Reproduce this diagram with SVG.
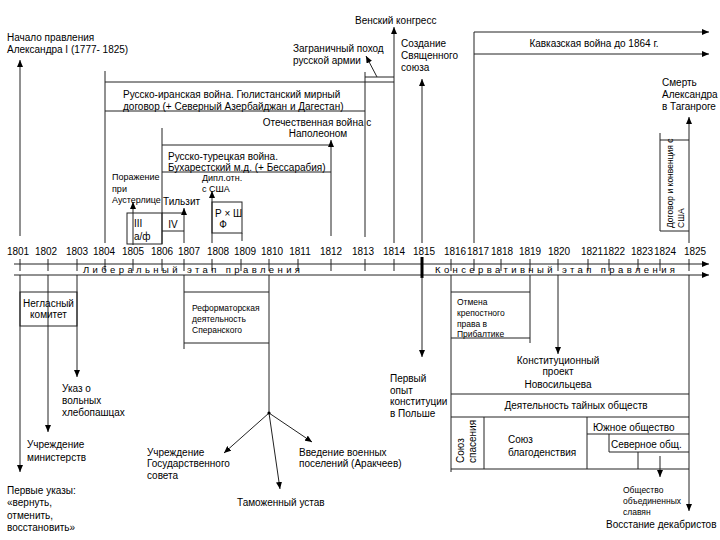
<svg xmlns="http://www.w3.org/2000/svg" width="720" height="540" viewBox="0 0 720 540">
<style>
text{font-family:"Liberation Sans",Arial,sans-serif;font-size:10px;fill:#000}
.s{font-size:8.5px}
.m{font-size:9px}
.c{text-anchor:middle}
.l{stroke:#222;stroke-width:1;fill:none}
.a{marker-end:url(#ah)}
.yr{text-anchor:middle;font-size:10px}
</style>
<defs>
<marker id="ah" viewBox="0 0 7 6" refX="7" refY="3" markerWidth="7" markerHeight="6" markerUnits="userSpaceOnUse" orient="auto">
<path d="M0,0 L7,3 L0,6 z" fill="#000"/>
</marker>
</defs>
<rect width="720" height="540" fill="#fff"/>
<g id="connectors">
<!-- top -->
<line class="l a" x1="20" y1="236" x2="20" y2="60"/>
<line class="l" x1="105" y1="71" x2="105" y2="243"/>
<line class="l" x1="105" y1="82" x2="394" y2="82"/>
<line class="l" x1="105" y1="111" x2="365" y2="111"/>
<line class="l" x1="162" y1="128" x2="162" y2="244"/>
<line class="l" x1="162" y1="145" x2="331" y2="145"/>
<line class="l" x1="162" y1="172" x2="331" y2="172"/>
<line class="l a" x1="331" y1="236" x2="331" y2="140"/>
<line class="l" x1="365" y1="72" x2="365" y2="237"/>
<line class="l" x1="365" y1="77" x2="394" y2="77"/>
<line class="l a" x1="377" y1="77" x2="366" y2="56"/>
<line class="l a" x1="394" y1="243" x2="394" y2="27"/>
<line class="l a" x1="422" y1="243" x2="422" y2="79"/>
<line class="l" x1="474" y1="32" x2="474" y2="243"/>
<line class="l a" x1="474" y1="32" x2="709" y2="32"/>
<line class="l a" x1="474" y1="54" x2="709" y2="54"/>
<line class="l a" x1="689" y1="243" x2="689" y2="117"/>
<line class="l" x1="660" y1="133" x2="660" y2="231"/>
<line class="l" x1="660" y1="140" x2="689" y2="140"/>
<line class="l" x1="660" y1="231" x2="689" y2="231"/>
<line class="l a" x1="133" y1="245" x2="133" y2="202"/>
<rect class="l" x="127" y="213" width="35" height="31"/>
<line class="l" x1="162" y1="213" x2="184" y2="213"/>
<line class="l" x1="162" y1="231" x2="184" y2="231"/>
<line class="l a" x1="184" y1="243" x2="184" y2="208"/>
<line class="l a" x1="212" y1="243" x2="212" y2="191"/>
<rect class="l" x="212" y="202" width="30" height="31"/>
<line class="l" x1="242" y1="233" x2="242" y2="241"/>
<!-- timeline -->
<line class="l a" x1="14" y1="264" x2="709" y2="264"/>
<line class="l a" x1="14" y1="275" x2="709" y2="275"/>
<path class="l" d="M20,259V271 M48,259V271 M77,259V271 M105,259V271 M133,259V271 M162,259V271 M184,259V271 M212,259V271 M241,259V271 M269,259V271 M298,259V271 M331,259V271 M365,259V271 M394,259V271 M451,259V271 M474,259V271 M501,259V271 M530,259V271 M558,259V271 M588,259V271 M609,259V271 M638,259V271 M660,259V271 M689,259V271"/>
<rect x="420.5" y="257" width="3" height="21" fill="#000"/>
<!-- bottom -->
<line class="l a" x1="20" y1="275" x2="20" y2="472"/>
<line class="l a" x1="48" y1="275" x2="48" y2="432"/>
<line class="l a" x1="77" y1="275" x2="77" y2="377"/>
<rect class="l" x="20" y="292" width="57" height="34"/>
<line class="l" x1="184" y1="275" x2="184" y2="349"/>
<line class="l" x1="184" y1="292" x2="269" y2="292"/>
<line class="l" x1="184" y1="343" x2="269" y2="343"/>
<line class="l" x1="269" y1="275" x2="269" y2="413"/>
<line class="l a" x1="269" y1="413" x2="224" y2="453"/>
<line class="l a" x1="269" y1="413" x2="280" y2="489"/>
<line class="l a" x1="269" y1="413" x2="312" y2="442"/>
<circle cx="269" cy="413" r="1.6" fill="#000"/>
<line class="l a" x1="422" y1="277" x2="422" y2="357"/>
<line class="l" x1="451" y1="275" x2="451" y2="472"/>
<line class="l" x1="451" y1="292" x2="530" y2="292"/>
<line class="l" x1="451" y1="338" x2="530" y2="338"/>
<line class="l" x1="530" y1="275" x2="530" y2="343"/>
<line class="l a" x1="558" y1="275" x2="558" y2="354"/>
<line class="l a" x1="689" y1="275" x2="689" y2="511"/>
<line class="l" x1="451" y1="394" x2="689" y2="394"/>
<line class="l" x1="451" y1="417" x2="689" y2="417"/>
<line class="l" x1="451" y1="469" x2="689" y2="469"/>
<line class="l" x1="484" y1="417" x2="484" y2="469"/>
<line class="l" x1="587" y1="417" x2="587" y2="469"/>
<line class="l" x1="587" y1="434" x2="689" y2="434"/>
<line class="l" x1="609" y1="434" x2="609" y2="452"/>
<line class="l" x1="609" y1="452" x2="689" y2="452"/>
<line class="l" x1="638" y1="452" x2="638" y2="469"/>
<line class="l a" x1="660" y1="456" x2="660" y2="477"/>
</g>
<g id="years">
<text class="yr" x="18" y="255">1801</text>
<text class="yr" x="46" y="255">1802</text>
<text class="yr" x="77" y="255">1803</text>
<text class="yr" x="104" y="255">1804</text>
<text class="yr" x="133" y="255">1805</text>
<text class="yr" x="162" y="255">1806</text>
<text class="yr" x="189" y="255">1807</text>
<text class="yr" x="218" y="255">1808</text>
<text class="yr" x="245" y="255">1809</text>
<text class="yr" x="272" y="255">1810</text>
<text class="yr" x="300" y="255">1811</text>
<text class="yr" x="331" y="255">1812</text>
<text class="yr" x="363" y="255">1813</text>
<text class="yr" x="394" y="255">1814</text>
<text class="yr" x="424" y="255">1815</text>
<text class="yr" x="455" y="255">1816</text>
<text class="yr" x="478" y="255">1817</text>
<text class="yr" x="502" y="255">1818</text>
<text class="yr" x="530" y="255">1819</text>
<text class="yr" x="559" y="255">1820</text>
<text class="yr" x="592" y="255">1821</text>
<text class="yr" x="614" y="255">1822</text>
<text class="yr" x="642" y="255">1823</text>
<text class="yr" x="665" y="255">1824</text>
<text class="yr" x="695" y="255">1825</text>
</g>
<g id="stages">
<text x="83" y="272.5" style="font-size:9.5px" textLength="217" lengthAdjust="spacing">Либеральный   этап   правления</text>
<text x="435" y="272.5" style="font-size:9.5px" textLength="240" lengthAdjust="spacing">Консервативный   этап   правления</text>
</g>
<g id="n_start"><text x="7" y="40.5">Начало правления</text><text x="7" y="52.5">Александра I (1777- 1825)</text></g>
<g id="n_iran"><text x="123" y="97.5">Русско-иранская война. Гюлистанский мирный</text><text x="123" y="109.5">договор (+ Северный Азербайджан и Дагестан)</text></g>
<g id="n_turk"><text x="168" y="159.5">Русско-турецкая война.</text><text x="168" y="170.5">Бухарестский м.д. (+ Бессарабия)</text></g>
<g id="n_otech"><text class="c" x="317" y="125.5">Отечественная война с</text><text class="c" x="318" y="137">Наполеоном</text></g>
<g id="n_zagr"><text x="293" y="51.5">Заграничный поход</text><text x="293" y="63.5">русской армии</text></g>
<g id="n_vienna"><text x="355" y="23.5">Венский конгресс</text></g>
<g id="n_holy"><text x="401" y="46.5">Создание</text><text x="401" y="58.5">Священного</text><text x="401" y="70.5">союза</text></g>
<g id="n_kavkaz"><text class="c" x="594" y="46.5">Кавказская война до 1864 г.</text></g>
<g id="n_death"><text x="662" y="85.5">Смерть</text><text x="662" y="97.5">Александра</text><text x="662" y="109.5">в Таганроге</text></g>
<g id="n_usa" transform="translate(673,228) rotate(-90)"><text class="s" x="0" y="0">Договор и конвенция с</text><text class="s" x="0" y="11">США</text></g>
<g id="n_aust"><text class="m" x="112" y="180">Поражение</text><text class="m" x="112" y="191.5">при</text><text class="m" x="112" y="202.5">Аустерлице</text></g>
<g id="n_tilsit"><text x="163" y="204.5">Тильзит</text></g>
<g id="n_dipl"><text class="m" x="202" y="180.5">Дипл.отн.</text><text class="m" x="202" y="191.5">с США</text></g>
<g id="n_iii"><text x="134" y="227">III</text><text x="134" y="240">а/ф</text></g>
<g id="n_iv"><text class="c" x="173" y="227.5">IV</text></g>
<g id="n_rsh"><text x="215" y="216.5">Р × Ш</text><text class="c" x="223" y="227.5">Ф</text></g>
<g id="n_neglas"><text class="c" x="48.5" y="306.5">Негласный</text><text class="c" x="48.5" y="318">комитет</text></g>
<g id="n_ukaz"><text x="62" y="391.5">Указ о</text><text x="62" y="403.5">вольных</text><text x="62" y="415.5">хлебопашцах</text></g>
<g id="n_minist"><text x="27" y="447.5">Учреждение</text><text x="27" y="460.5">министерств</text></g>
<g id="n_first"><text x="7" y="493.5">Первые указы:</text><text x="7" y="506">«вернуть,</text><text x="7" y="518.5">отменить,</text><text x="7" y="531">восстановить»</text></g>
<g id="n_speran"><text class="s" x="192" y="311">Реформаторская</text><text class="s" x="192" y="322">деятельность</text><text class="s" x="192" y="333">Сперанского</text></g>
<g id="n_gossov"><text x="147" y="455.5">Учреждение</text><text x="147" y="467">Государственного</text><text x="147" y="478.5">совета</text></g>
<g id="n_tamozh"><text x="237" y="505.5">Таможенный устав</text></g>
<g id="n_voen"><text x="299" y="455.5">Введение военных</text><text x="299" y="467">поселений (Аракчеев)</text></g>
<g id="n_polsha"><text x="390" y="381.5">Первый</text><text x="390" y="393.5">опыт</text><text x="390" y="405">конституции</text><text x="390" y="416.5">в Польше</text></g>
<g id="n_otmena"><text class="s" x="457" y="305">Отмена</text><text class="s" x="457" y="316">крепостного</text><text class="s" x="457" y="327">права в</text><text class="s" x="457" y="337">Прибалтике</text></g>
<g id="n_novos"><text class="c" x="558" y="363.5">Конституционный</text><text class="c" x="558" y="375">проект</text><text class="c" x="558" y="387.5">Новосильцева</text></g>
<g id="n_tain"><text class="c" x="576" y="408.5">Деятельность тайных обществ</text></g>
<g id="n_spas" transform="translate(463.5,463) rotate(-90)"><text x="0" y="0">Союз</text><text x="0" y="12.5">спасения</text></g>
<g id="n_blag"><text x="508" y="442.5">Союз</text><text x="508" y="455.5">благоденствия</text></g>
<g id="n_south"><text x="593" y="431">Южное общество</text></g>
<g id="n_north"><text x="611" y="447.5">Северное общ.</text></g>
<g id="n_slav"><text class="s" x="623" y="493">Общество</text><text class="s" x="623" y="503.5">объединенных</text><text class="s" x="623" y="514.5">славян</text></g>
<g id="n_vosst"><text x="606" y="527.5">Восстание декабристов</text></g>
</svg>
